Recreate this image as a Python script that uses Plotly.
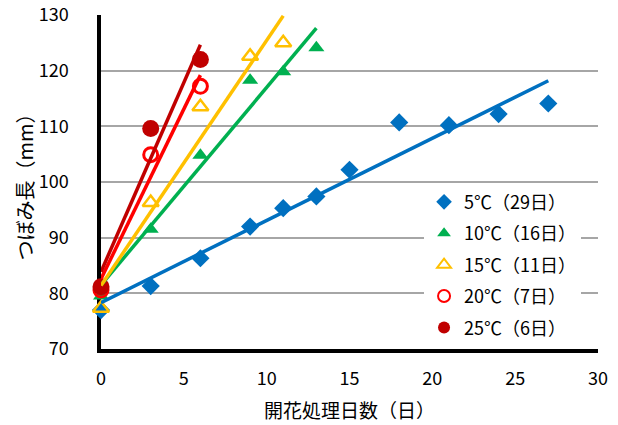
import numpy as np
import plotly.graph_objects as go

# Treatment days and bud length (mm) for each temperature
days_5 = [0, 3, 6, 9, 11, 13, 15, 18, 21, 24, 27]
len_5 = [77.0, 81.3, 86.3, 92.0, 95.3, 97.4, 102.2, 110.7, 110.2, 112.2, 114.1]

days_10 = [0, 3, 6, 9, 11, 13]
len_10 = [79.5, 91.5, 104.8, 118.3, 119.8, 124.1]

days_15 = [0, 3, 6, 9, 11]
len_15 = [77.3, 96.3, 113.5, 122.6, 125.0]

days_20 = [0, 3, 6]
len_20 = [80.6, 104.9, 117.2]

days_25 = [0, 3, 6]
len_25 = [81.2, 109.6, 122.0]

names = ["5℃（29日）", "10℃（16日）", "15℃（11日）", "20℃（7日）", "25℃（6日）"]
x_ticks = [0, 5, 10, 15, 20, 25, 30]
y_ticks = [70, 80, 90, 100, 110, 120, 130]

series = [
    (days_5, len_5, "#0070C0", dict(symbol="diamond", size=14, color="#0070C0")),
    (days_10, len_10, "#00B050", dict(symbol="triangle-up", size=14, color="#00B050")),
    (days_15, len_15, "#FFC000", dict(symbol="triangle-up-open", size=14, color="#FFC000",
                                      line=dict(width=2.5, color="#FFC000"))),
    (days_20, len_20, "#FF0000", dict(symbol="circle-open", size=14, color="#FF0000",
                                      line=dict(width=3, color="#FF0000"))),
    (days_25, len_25, "#C00000", dict(symbol="circle", size=17, color="#C00000")),
]

fig = go.Figure()

for i, ((xs, ys, col, mk), name) in enumerate(zip(series, names)):
    fig.add_trace(go.Scatter(x=xs, y=ys, mode="markers", name=name, marker=mk,
                             legendgroup=f"g{i}", cliponaxis=False))

# Linear trend lines
for (xs, ys, col, mk), name in zip(series, names):
    slope, icpt = np.polyfit(xs, ys, 1)
    lx = np.array([min(xs), max(xs)], dtype=float)
    fig.add_trace(go.Scatter(x=lx, y=slope * lx + icpt, mode="lines",
                             line=dict(color=col, width=3.5), showlegend=False,
                             hoverinfo="skip"))

font_main = "Noto Sans CJK JP, Noto Sans, sans-serif"

fig.update_layout(
    width=618, height=425,
    margin=dict(l=101, r=20, t=15, b=76),
    paper_bgcolor="white", plot_bgcolor="white",
    font=dict(family=font_main, size=17, color="#000000"),
    legend=dict(x=0.65, y=0.495, xanchor="left", yanchor="top",
                bgcolor="white", font=dict(size=18), tracegroupgap=5,
                itemsizing="constant"),
    xaxis=dict(range=[0, 30], tickvals=x_ticks, showgrid=False, zeroline=False,
               showline=True, linecolor="black", linewidth=3.5, ticks="",
               layer="below traces", ticklabelstandoff=11, automargin=False,
               tickfont=dict(size=18),
               title=dict(text="開花処理日数（日）", font=dict(size=19), standoff=16)),
    yaxis=dict(range=[70, 130], tickvals=y_ticks, showgrid=True,
               gridcolor="#A6A6A6", gridwidth=1.5, zeroline=False,
               showline=True, linecolor="black", linewidth=3.5, ticks="",
               layer="below traces", ticklabelstandoff=25, automargin=False,
               tickfont=dict(size=18),
               title=dict(text="つぼみ長（mm）", font=dict(size=20), standoff=0)),
)

fig.write_html("out.html")
